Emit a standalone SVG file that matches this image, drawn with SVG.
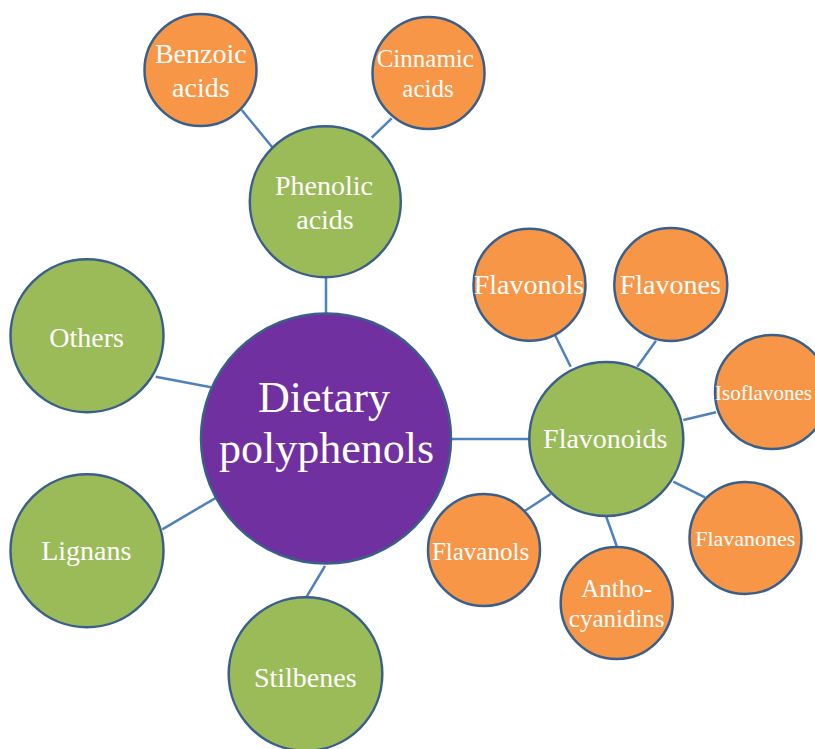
<svg xmlns="http://www.w3.org/2000/svg" width="815" height="749" viewBox="0 0 815 749">
<style>
.c{stroke:#3A5F8B;stroke-width:2.5}
.p{fill:#7030A0}
.g{fill:#9BBB59}
.o{fill:#F79646}
.l{stroke:#4F81BD;stroke-width:2.5;fill:none}
text{font-family:"Liberation Serif","Times New Roman",serif;fill:#FFFFFF;text-anchor:middle}
</style>
<rect width="815" height="749" fill="#FFFFFF"/>
<g id="connectors">
<line class="l" x1="241.7" y1="110" x2="272.7" y2="147.7"/>
<line class="l" x1="391.7" y1="118.3" x2="371.7" y2="137.7"/>
<line class="l" x1="326" y1="277" x2="326" y2="313"/>
<line class="l" x1="155.7" y1="376.7" x2="211" y2="387.3"/>
<line class="l" x1="162.3" y1="529.3" x2="215" y2="498.3"/>
<line class="l" x1="325" y1="566" x2="305" y2="599.3"/>
<line class="l" x1="451" y1="439" x2="529.5" y2="439"/>
<line class="l" x1="555" y1="335" x2="570.7" y2="366.7"/>
<line class="l" x1="656" y1="340.7" x2="637.3" y2="366.7"/>
<line class="l" x1="683.3" y1="420" x2="716" y2="412.3"/>
<line class="l" x1="525" y1="510.7" x2="550.7" y2="494"/>
<line class="l" x1="606" y1="516" x2="616.7" y2="546"/>
<line class="l" x1="673.3" y1="481.7" x2="705" y2="497.3"/>
</g>
<g id="dietary-polyphenols">
<circle class="c p" cx="326" cy="438.5" r="125"/>
<text x="324" y="411.7" font-size="44">Dietary</text>
<text x="326.5" y="463.3" font-size="44">polyphenols</text>
</g>
<g id="phenolic-acids">
<circle class="c g" cx="325.3" cy="201.7" r="75.5"/>
<text x="324" y="195" font-size="28">Phenolic</text>
<text x="325" y="229.3" font-size="28">acids</text>
</g>
<g id="benzoic-acids">
<circle class="c o" cx="200.5" cy="70" r="56"/>
<text x="200.8" y="63.3" font-size="28">Benzoic</text>
<text x="200.8" y="96.7" font-size="28">acids</text>
</g>
<g id="cinnamic-acids">
<circle class="c o" cx="428.5" cy="73" r="56"/>
<text x="425.3" y="66.7" font-size="25">Cinnamic</text>
<text x="428" y="96.7" font-size="25">acids</text>
</g>
<g id="others">
<circle class="c g" cx="87" cy="335.8" r="76.5"/>
<text x="86.7" y="346.7" font-size="28">Others</text>
</g>
<g id="lignans">
<circle class="c g" cx="87" cy="550.7" r="76.5"/>
<text x="86.3" y="560" font-size="28">Lignans</text>
</g>
<g id="stilbenes">
<circle class="c g" cx="305.5" cy="674" r="76.8"/>
<text x="305.3" y="686.7" font-size="28">Stilbenes</text>
</g>
<g id="flavonoids">
<circle class="c g" cx="606.3" cy="439" r="77"/>
<text x="605.3" y="448.3" font-size="28">Flavonoids</text>
</g>
<g id="flavonols">
<circle class="c o" cx="529.5" cy="284.8" r="56"/>
<text x="529" y="294" font-size="28">Flavonols</text>
</g>
<g id="flavones">
<circle class="c o" cx="670.8" cy="284.5" r="56.5"/>
<text x="670.3" y="294" font-size="28">Flavones</text>
</g>
<g id="isoflavones">
<circle class="c o" cx="772" cy="392" r="57"/>
<text x="763.5" y="400" font-size="21">Isoflavones</text>
</g>
<g id="flavanones">
<circle class="c o" cx="745.5" cy="538" r="56"/>
<text x="745.3" y="546" font-size="22">Flavanones</text>
</g>
<g id="anthocyanidins">
<circle class="c o" cx="616.7" cy="603" r="56"/>
<text x="616.7" y="597.3" font-size="25">Antho-</text>
<text x="616.7" y="626.7" font-size="25">cyanidins</text>
</g>
<g id="flavanols">
<circle class="c o" cx="484" cy="550" r="56"/>
<text x="480.5" y="560" font-size="25">Flavanols</text>
</g>
</svg>
